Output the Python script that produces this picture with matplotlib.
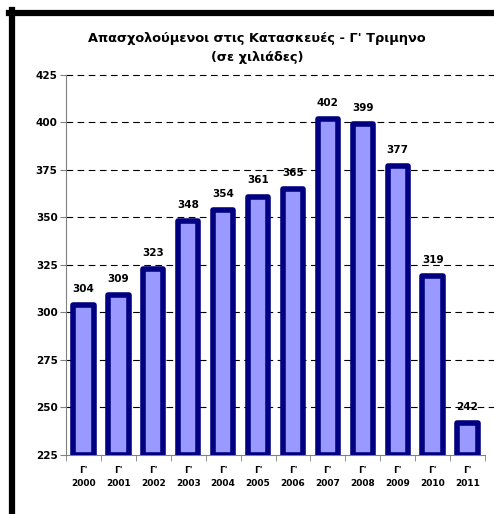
import matplotlib
matplotlib.use('Agg')
import matplotlib.pyplot as plt
from matplotlib.lines import Line2D

# Data
years = ['2000', '2001', '2002', '2003', '2004', '2005',
         '2006', '2007', '2008', '2009', '2010', '2011']
values = [304, 309, 323, 348, 354, 361, 365, 402, 399, 377, 319, 242]
tick_labels = ["Γ'\n" + y for y in years]
title = "Απασχολούμενοι στις Κατασκευές - Γ' Τριμηνο\n(σε χιλιάδες)"

fig = plt.figure(figsize=(4.94, 5.14), dpi=100)
ax = fig.add_axes([66 / 494, 1 - 455 / 514, (485 - 66) / 494, (455 - 75) / 514])

base = 225
x = list(range(len(values)))
bars = ax.bar(x, [v - base for v in values], bottom=base, width=0.58,
              color='#9999ff', edgecolor='#000080', linewidth=4, zorder=3)
for b in bars:
    b.set_joinstyle('round')

ax.set_xlim(-0.5, len(values) - 0.5)
ax.set_ylim(225, 425)
yt = list(range(225, 426, 25))
ax.set_yticks(yt)
ax.set_yticklabels([str(t) for t in yt], fontsize=7.5, fontweight='bold')

ax.set_xticks(x)
ax.set_xticklabels(tick_labels, fontsize=6.5, fontweight='bold', linespacing=1.5)
ax.set_xticks([i - 0.5 for i in range(len(values) + 1)], minor=True)
ax.tick_params(axis='x', which='major', length=0, pad=8)
ax.tick_params(axis='x', which='minor', length=4, color='#808080')
ax.tick_params(axis='y', length=4, color='#808080', pad=2)

for s in ['top', 'right']:
    ax.spines[s].set_visible(False)
for s in ['left', 'bottom']:
    ax.spines[s].set_color('#808080')

# dashed gridlines, running to the right edge of the picture
for t in yt[1:]:
    ax.axhline(t, xmin=0, xmax=(494 - 66) / (485 - 66), color='black',
               linestyle=(0, (6, 4)), linewidth=0.8, zorder=0, clip_on=False)

for xi, v in zip(x, values):
    ax.annotate(str(v), (xi, v), xytext=(0, 8), textcoords='offset points',
                ha='center', va='bottom', fontsize=7.5, fontweight='bold', zorder=5)

fig.text(257 / 494, 1 - 48 / 514, title, ha='center', va='center', fontsize=9.3,
         fontweight='bold', linespacing=1.6)

# black frame (top and left)
fig.add_artist(Line2D([9 / 494, 1], [1 - 13 / 514, 1 - 13 / 514], color='black',
                      linewidth=4.5, transform=fig.transFigure))
fig.add_artist(Line2D([12 / 494, 12 / 494], [0, 1 - 10 / 514], color='black',
                      linewidth=4.5, transform=fig.transFigure))

plt.savefig('out.png', dpi=100)
